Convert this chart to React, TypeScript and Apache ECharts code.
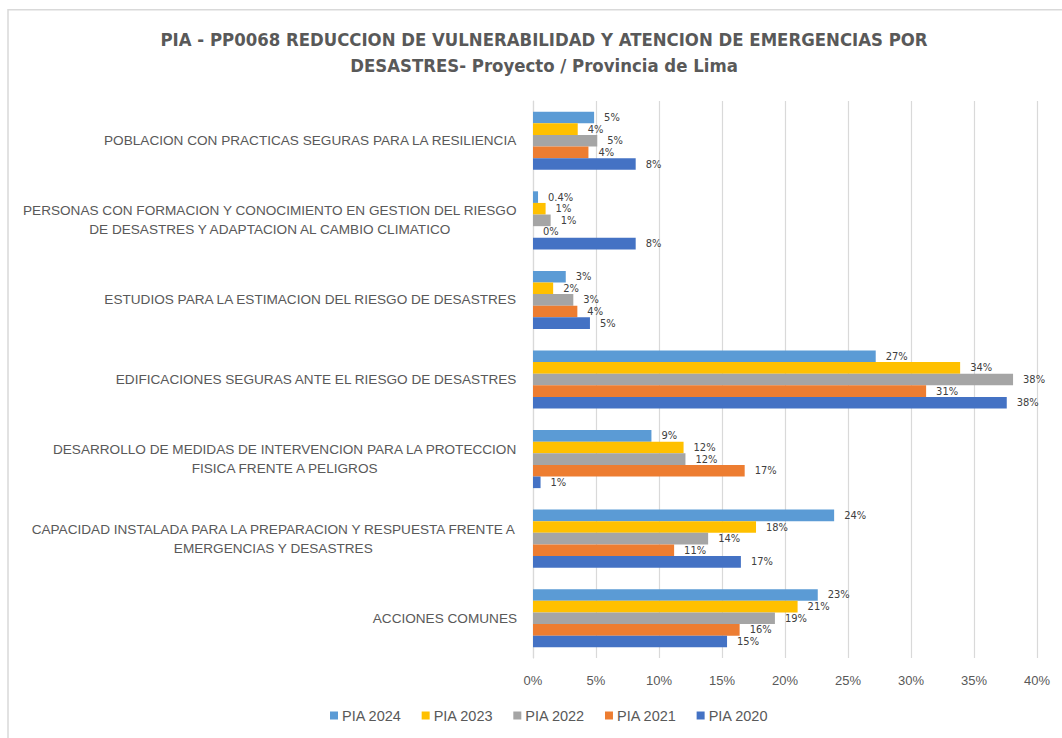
import React, { useEffect, useRef } from "react";
import * as echarts from "echarts";

const categories = [
  "POBLACION CON PRACTICAS SEGURAS PARA LA RESILIENCIA",
  "PERSONAS CON FORMACION Y CONOCIMIENTO EN GESTION DEL RIESGO\nDE DESASTRES Y ADAPTACION AL CAMBIO CLIMATICO",
  "ESTUDIOS PARA LA ESTIMACION DEL RIESGO DE DESASTRES",
  "EDIFICACIONES SEGURAS ANTE EL RIESGO DE DESASTRES",
  "DESARROLLO DE MEDIDAS DE INTERVENCION PARA LA PROTECCION\nFISICA FRENTE A PELIGROS",
  "CAPACIDAD INSTALADA PARA LA PREPARACION Y RESPUESTA FRENTE A\nEMERGENCIAS Y DESASTRES",
  "ACCIONES COMUNES",
];

const seriesNames = ["PIA 2024", "PIA 2023", "PIA 2022", "PIA 2021", "PIA 2020"];
const seriesColors = ["#5B9BD5", "#FFC000", "#A5A5A5", "#ED7D31", "#4472C4"];

const pia2024 = [4.85, 0.4, 2.6, 27.2, 9.4, 23.9, 22.6];
const pia2023 = [3.55, 1.0, 1.6, 33.9, 11.95, 17.7, 21.0];
const pia2022 = [5.1, 1.4, 3.2, 38.1, 12.1, 13.9, 19.2];
const pia2021 = [4.4, 0, 3.52, 31.2, 16.8, 11.2, 16.4];
const pia2020 = [8.15, 8.15, 4.52, 37.6, 0.6, 16.5, 15.4];

const xTicks = { min: 0, max: 40, interval: 5 };

const COND = "'DejaVu Sans Condensed', sans-serif";
const SANS = "'Liberation Sans', Arial, sans-serif";

export default function App() {
  const ref = useRef<HTMLDivElement>(null);

  useEffect(() => {
    document.body.style.margin = "0";
    if (!ref.current) return;
    const chart = echarts.init(ref.current, undefined, { renderer: "svg" });
    const allData = [pia2024, pia2023, pia2022, pia2021, pia2020];
    const fmt = (v: number) => (v > 0 && v < 0.5 ? v.toFixed(1) : Math.round(v).toString()) + "%";
    chart.setOption({
      animation: false,
      backgroundColor: "#ffffff",
      textStyle: { fontFamily: SANS },
      title: {
        text: "PIA - PP0068 REDUCCION DE VULNERABILIDAD Y ATENCION DE EMERGENCIAS POR\nDESASTRES- Proyecto / Provincia de Lima",
        left: 539,
        textAlign: "center",
        top: 21,
        textStyle: {
          fontFamily: COND,
          fontSize: 18.4,
          fontWeight: "bold",
          color: "#595959",
          lineHeight: 26,
        },
      },
      graphic: [
        {
          type: "rect",
          shape: { x: 8, y: 9.7, width: 1200, height: 900 },
          style: { fill: "none", stroke: "#d9d9d9", lineWidth: 1.5 },
          silent: true,
        },
      ],
      legend: {
        data: seriesNames,
        bottom: 10,
        left: 325,
        icon: "rect",
        itemWidth: 8,
        itemHeight: 8,
        itemGap: 20,
        textStyle: { fontFamily: SANS, fontSize: 14.5, color: "#595959", padding: [0, 0, 0, -1] },
      },
      grid: {
        left: 533,
        right: 25,
        top: 101,
        bottom: 80,
        containLabel: false,
        outerBoundsMode: "none",
      },
      xAxis: {
        type: "value",
        min: xTicks.min,
        max: xTicks.max,
        interval: xTicks.interval,
        axisLine: { show: false },
        axisTick: { show: false },
        splitLine: { show: true, lineStyle: { color: "#d9d9d9", width: 1.2 } },
        axisLabel: {
          formatter: (v: number) => v + "%",
          color: "#595959",
          fontSize: 13,
          fontFamily: SANS,
          margin: 16,
        },
      },
      yAxis: {
        type: "category",
        inverse: true,
        data: categories,
        axisLine: { show: true, lineStyle: { color: "#d9d9d9", width: 1.2 } },
        axisTick: { show: false },
        axisLabel: {
          color: "#595959",
          fontSize: 13.6,
          fontFamily: SANS,
          margin: 16,
          lineHeight: 19,
          formatter: (v: string) =>
            v
              .split("\n")
              .map((l) => "{c|" + l + "}")
              .join("\n"),
          rich: {
            c: { align: "center", color: "#595959", fontSize: 13.6, fontFamily: SANS, lineHeight: 19 },
          },
        },
      },
      series: seriesNames.map((name, i) => ({
        name,
        type: "bar",
        data: allData[i],
        barGap: "0%",
        barCategoryGap: "27%",
        itemStyle: { color: seriesColors[i] },
        label: {
          show: true,
          position: "right",
          distance: 10,
          color: "#404040",
          fontSize: 11,
          fontFamily: COND,
          formatter: (p: any) => fmt(p.value),
        },
      })),
    });
    return () => chart.dispose();
  }, []);

  return <div ref={ref} style={{ width: 1062, height: 738 }} />;
}
